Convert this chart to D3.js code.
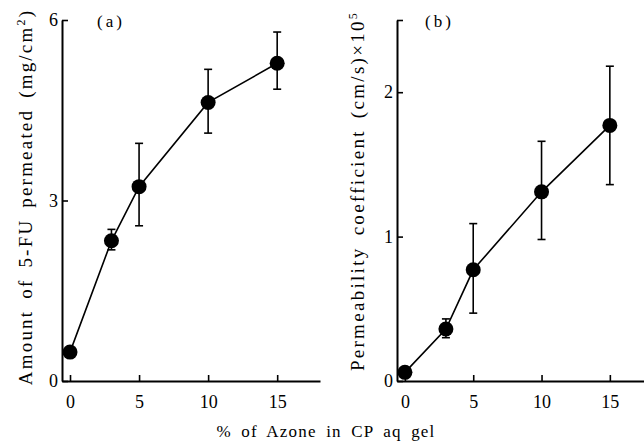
<!DOCTYPE html>
<html>
<head>
<meta charset="utf-8">
<script src="https://cdn.jsdelivr.net/npm/d3@7"></script>
<style>
  html, body { margin: 0; padding: 0; background: #fff; }
  svg { display: block; }
  text { font-family: "Liberation Serif", "DejaVu Serif", serif; fill: #000; }
</style>
</head>
<body>
<script>
// Azone concentrations (% in CP aqueous gel)
const azone = [0, 3, 5, 10, 15];

// (a) Amount of 5-FU permeated (mg/cm2): mean and error-bar limits
const amountMean = [0.48, 2.33, 3.23, 4.63, 5.28];
const amountLow  = [0.48, 2.18, 2.58, 4.12, 4.85];
const amountHigh = [0.48, 2.52, 3.95, 5.18, 5.80];

// (b) Permeability coefficient (cm/s) x 10^5: mean and error-bar limits
const permMean = [0.06, 0.36, 0.77, 1.31, 1.77];
const permLow  = [0.06, 0.30, 0.47, 0.98, 1.36];
const permHigh = [0.06, 0.43, 1.09, 1.66, 2.18];

// Tick values
const xTicks = [0, 5, 10, 15];
const yTicksA = [0, 3, 6];
const yTicksB = [0, 1, 2, 2.5];

const W = 644, H = 441;
const svg = d3.select("body").append("svg").attr("width", W).attr("height", H);

function panel(opts) {
  const g = svg.append("g");
  const x = d3.scaleLinear().domain(opts.xDomain).range(opts.xRange);
  const y = d3.scaleLinear().domain(opts.yDomain).range([381, 20]);

  // x axis: ticks pointing up into the plot
  const xAxis = g.append("g").attr("transform", `translate(0,${y(0)})`)
    .call(d3.axisBottom(x).tickValues(xTicks).tickSizeInner(-6).tickSizeOuter(0).tickPadding(14));
  xAxis.select(".domain").attr("stroke-width", 2);
  xAxis.selectAll(".tick line").attr("stroke-width", 1.6);
  xAxis.selectAll(".tick text").style("font-size", "18px").style("font-family", "Liberation Serif, serif");

  // y axis: ticks pointing right into the plot
  const yAxis = g.append("g").attr("transform", `translate(${opts.xRange[0]},0)`)
    .call(d3.axisLeft(y).tickValues(opts.yTicks).tickSizeInner(-6).tickSizeOuter(0).tickPadding(4)
      .tickFormat(d => Number.isInteger(d) ? d : ""));
  yAxis.select(".domain").attr("stroke-width", 2);
  yAxis.selectAll(".tick line").attr("stroke-width", 1.6);
  yAxis.selectAll(".tick text").style("font-size", "18px").style("font-family", "Liberation Serif, serif");

  const pts = azone.map((a, i) => ({ a, m: opts.mean[i], lo: opts.low[i], hi: opts.high[i] }));

  // error bars
  const eb = g.append("g").attr("stroke", "#000").attr("stroke-width", 1.6);
  pts.filter(p => p.hi > p.lo).forEach(p => {
    eb.append("line").attr("x1", x(p.a)).attr("x2", x(p.a)).attr("y1", y(p.lo)).attr("y2", y(p.hi));
    eb.append("line").attr("x1", x(p.a) - 4).attr("x2", x(p.a) + 4).attr("y1", y(p.lo)).attr("y2", y(p.lo));
    eb.append("line").attr("x1", x(p.a) - 4).attr("x2", x(p.a) + 4).attr("y1", y(p.hi)).attr("y2", y(p.hi));
  });

  // connecting line
  g.append("path").datum(pts)
    .attr("d", d3.line().x(p => x(p.a)).y(p => y(p.m)))
    .attr("fill", "none").attr("stroke", "#000").attr("stroke-width", 1.6);

  // markers
  g.selectAll("circle.pt").data(pts).join("circle")
    .attr("cx", p => x(p.a)).attr("cy", p => y(p.m)).attr("r", 7.5).attr("fill", "#000");

  // panel tag
  g.append("text").attr("x", opts.tagX).attr("y", 27)
    .style("font-size", "17px").style("letter-spacing", "3px").text(opts.tag);

  // y-axis title
  const t = g.append("text")
    .attr("transform", `translate(${opts.titleX},${opts.titleCY}) rotate(-90)`)
    .attr("text-anchor", "middle")
    .style("font-size", "19px")
    .style("letter-spacing", opts.titleLS + "px")
    .style("word-spacing", opts.titleWS + "px");
  opts.title(t);
  return { x, y };
}

panel({
  xDomain: [-0.58, 18.1], xRange: [62, 320],
  yDomain: [0, 6], yTicks: yTicksA,
  mean: amountMean, low: amountLow, high: amountHigh,
  tag: "(a)", tagX: 97,
  titleX: 32, titleCY: 197, titleLS: 2.2, titleWS: 4,
  title: t => {
    t.append("tspan").text("Amount of 5-FU permeated (mg/cm");
    t.append("tspan").attr("dy", -7).style("font-size", "12px").text("2");
    t.append("tspan").attr("dy", 7).text(")");
  }
});

panel({
  xDomain: [-0.58, 17.5], xRange: [397, 644],
  yDomain: [0, 2.5], yTicks: yTicksB,
  mean: permMean, low: permLow, high: permHigh,
  tag: "(b)", tagX: 425,
  titleX: 364, titleCY: 191, titleLS: 2.3, titleWS: 4,
  title: t => {
    t.append("tspan").text("Permeability coefficient (cm/s)×10");
    t.append("tspan").attr("dy", -7).style("font-size", "12px").text("5");
  }
});

// shared x-axis title
svg.append("text").attr("x", 326).attr("y", 437).attr("text-anchor", "middle")
  .style("font-size", "17px").style("letter-spacing", "1.2px").style("word-spacing", "4px")
  .text("% of Azone in CP aq gel");
</script>
</body>
</html>
